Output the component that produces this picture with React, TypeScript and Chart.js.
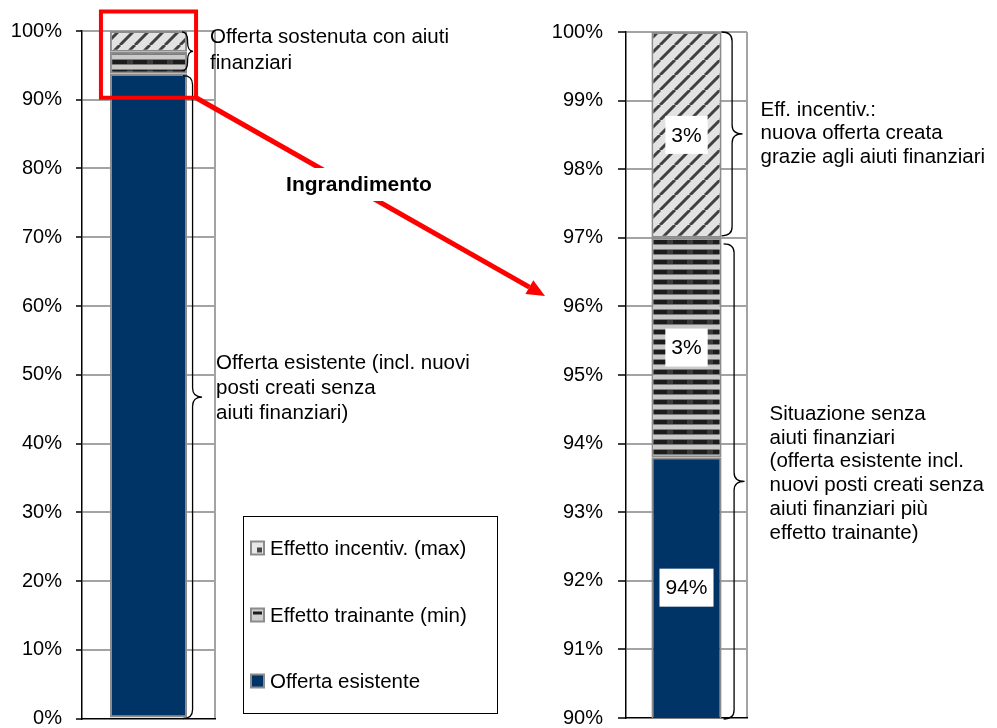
import React, { useEffect, useRef } from 'react';
import { Chart, registerables } from 'chart.js';

Chart.register(...registerables);

const FONT = '"Liberation Sans", Arial, Helvetica, sans-serif';
Chart.defaults.font.family = FONT;

// ---- data ----
const categories = [''];
const seriesLabels = ['Offerta esistente', 'Effetto trainante (min)', 'Effetto incentiv. (max)'];
const existingValues = [93.8];
const trainanteValues = [3.2];
const incentiveValues = [3.0];
const leftAxis = [0, 100, 10];
const rightAxis = [90, 100, 1];

const leftTopNote = ['Offerta sostenuta con aiuti', 'finanziari'];
const leftMainNote = ['Offerta esistente (incl. nuovi', 'posti creati senza', 'aiuti finanziari)'];
const rightTopNote = ['Eff. incentiv.:', 'nuova offerta creata', 'grazie agli aiuti finanziari'];
const rightMainNote = [
  'Situazione senza',
  'aiuti finanziari',
  '(offerta esistente incl.',
  'nuovi posti creati senza',
  'aiuti finanziari più',
  'effetto trainante)',
];
const zoomLabel = 'Ingrandimento';
const legendOrder = [2, 1, 0];

const NAVY = '#003366';
const GRID = '#a3a3a3';
const BAR_BORDER = '#8c8c8c';

function makeHatch(): CanvasPattern | string {
  const s = 15;
  const c = document.createElement('canvas');
  c.width = s;
  c.height = s;
  const g = c.getContext('2d');
  if (!g) return '#ddd';
  g.fillStyle = '#e2e2e2';
  g.fillRect(0, 0, s, s);
  g.strokeStyle = '#404040';
  g.lineWidth = 3;
  g.beginPath();
  for (const o of [-s, 0, s]) {
    g.moveTo(o, s);
    g.lineTo(o + s, 0);
  }
  g.stroke();
  return g.createPattern(c, 'repeat') || '#ddd';
}

function makeStripes(): CanvasPattern | string {
  const w = 20;
  const h = 10;
  const c = document.createElement('canvas');
  c.width = w;
  c.height = h;
  const g = c.getContext('2d');
  if (!g) return '#888';
  g.fillStyle = '#cacaca';
  g.fillRect(0, 0, w, h);
  g.fillStyle = '#1c1c1c';
  g.fillRect(0, 0, w, 4);
  g.fillStyle = '#3a3a3a';
  g.fillRect(7, 0, 6, 4);
  g.fillStyle = '#7d7d7d';
  g.fillRect(0, 4, w, 1);
  g.fillRect(0, 9, w, 1);
  return g.createPattern(c, 'repeat') || '#888';
}

function brace(ctx: CanvasRenderingContext2D, x: number, y1: number, y2: number, depth: number) {
  const xm = x + depth * 0.5;
  const ym = (y1 + y2) / 2;
  const r = Math.min(9, (y2 - y1) / 4);
  ctx.beginPath();
  ctx.moveTo(x, y1);
  ctx.quadraticCurveTo(xm, y1, xm, y1 + r);
  ctx.lineTo(xm, ym - r);
  ctx.quadraticCurveTo(xm, ym, x + depth, ym);
  ctx.quadraticCurveTo(xm, ym, xm, ym + r);
  ctx.lineTo(xm, y2 - r);
  ctx.quadraticCurveTo(xm, y2, x, y2);
  ctx.stroke();
}

function lines(ctx: CanvasRenderingContext2D, texts: string[], x: number, y0: number, dy: number) {
  ctx.fillStyle = '#000';
  ctx.font = `20.5px ${FONT}`;
  ctx.textAlign = 'left';
  ctx.textBaseline = 'middle';
  texts.forEach((t, i) => ctx.fillText(t, x, y0 + i * dy));
}

function buildDatasets(hatch: any, stripes: any) {
  return [
    { label: seriesLabels[0], data: existingValues, backgroundColor: NAVY },
    { label: seriesLabels[1], data: trainanteValues, backgroundColor: stripes },
    { label: seriesLabels[2], data: incentiveValues, backgroundColor: hatch },
  ].map((d) => ({
    ...d,
    borderColor: BAR_BORDER,
    borderWidth: 2,
    borderSkipped: false,
    barPercentage: 0.58,
    categoryPercentage: 1,
  }));
}

function scalesFor(range: number[], tickLen: number, pad: number) {
  const [min, max, step] = range;
  return {
    x: {
      stacked: true,
      grid: {
        display: true,
        offset: true,
        drawTicks: false,
        lineWidth: 2,
        color: (c: any) => (c.index === 0 ? 'rgba(0,0,0,0)' : GRID),
      },
      ticks: { display: false },
      border: { color: '#000', width: 1.5 },
      afterFit: (s: any) => {
        s.height = 0;
        s.paddingLeft = 0;
        s.paddingRight = 0;
      },
    },
    y: {
      stacked: true,
      min,
      max,
      ticks: {
        stepSize: step,
        color: '#000',
        padding: pad,
        font: { size: 20, family: FONT },
        callback: (v: any) => `${Math.round(Number(v))}%`,
      },
      grid: {
        lineWidth: 2,
        color: (c: any) => (c.tick && c.tick.value === min ? 'rgba(0,0,0,0)' : GRID),
        tickColor: '#000',
        tickLength: tickLen,
        tickWidth: 1.5,
      },
      border: { color: '#000', width: 1.5 },
      afterFit: (s: any) => {
        s.width = 82;
        s.paddingTop = 0;
        s.paddingBottom = 0;
      },
    },
  };
}

const leftPlugin = {
  id: 'leftAnnotations',
  afterDraw(chart: any) {
    const ctx: CanvasRenderingContext2D = chart.ctx;
    const ys = chart.scales.y;
    const el = chart.getDatasetMeta(0).data[0];
    const barL = el.x - el.width / 2;
    const barR = el.x + el.width / 2;
    const yTop = ys.getPixelForValue(100);
    const yExist = ys.getPixelForValue(existingValues[0]);
    const yZero = ys.getPixelForValue(0);
    ctx.save();
    ctx.strokeStyle = '#000';
    ctx.lineWidth = 1.3;
    brace(ctx, barR - 5, yTop + 1, yExist - 3, 11);
    brace(ctx, barR - 4, yExist + 2, yZero, 19);
    lines(ctx, leftTopNote, barR + 23, 37, 26);
    lines(ctx, leftMainNote, barR + 29, 363, 25);

    // legend box
    ctx.strokeStyle = '#000';
    ctx.lineWidth = 1;
    ctx.strokeRect(243.5, 516.5, 254, 197);
    const ly = [548, 615, 681];
    legendOrder.forEach((di, k) => {
      const y = ly[k];
      const x = 251;
      const s = 13;
      if (di === 0) {
        ctx.fillStyle = NAVY;
        ctx.fillRect(x, y - s / 2, s, s);
      } else if (di === 1) {
        ctx.fillStyle = '#d0d0d0';
        ctx.fillRect(x, y - s / 2, s, s);
        ctx.fillStyle = '#1c1c1c';
        ctx.fillRect(x + 2, y - s / 2 + 3, s - 4, 3);
      } else {
        ctx.fillStyle = '#e8e8e8';
        ctx.fillRect(x, y - s / 2, s, s);
        ctx.fillStyle = '#444';
        ctx.fillRect(x + s - 7, y + s / 2 - 7, 5, 5);
      }
      ctx.strokeStyle = '#8c8c8c';
      ctx.lineWidth = 2;
      ctx.strokeRect(x, y - s / 2, s, s);
      ctx.fillStyle = '#000';
      ctx.font = `20.5px ${FONT}`;
      ctx.textAlign = 'left';
      ctx.textBaseline = 'middle';
      ctx.fillText(seriesLabels[di], 270, y + 1);
    });

    // red zoom rectangle
    const rx1 = barL - 9;
    const rx2 = barR + 9;
    const ry1 = yTop - 19.5;
    const ry2 = ys.getPixelForValue(90) - 2;
    ctx.strokeStyle = '#ff0000';
    ctx.lineWidth = 4;
    ctx.strokeRect(rx1, ry1, rx2 - rx1, ry2 - ry1);

    // arrow
    const tipX = 545;
    const tipY = 296;
    const ang = Math.atan2(tipY - ry2, tipX - rx2);
    const hl = 18;
    const hw = 8;
    const bxp = tipX - hl * Math.cos(ang);
    const byp = tipY - hl * Math.sin(ang);
    ctx.lineWidth = 5;
    ctx.beginPath();
    ctx.moveTo(rx2, ry2);
    ctx.lineTo(bxp, byp);
    ctx.stroke();
    ctx.fillStyle = '#ff0000';
    ctx.beginPath();
    ctx.moveTo(tipX, tipY);
    ctx.lineTo(bxp + hw * Math.sin(ang), byp - hw * Math.cos(ang));
    ctx.lineTo(bxp - hw * Math.sin(ang), byp + hw * Math.cos(ang));
    ctx.closePath();
    ctx.fill();

    // zoom label
    ctx.font = `bold 21px ${FONT}`;
    const tw = ctx.measureText(zoomLabel).width;
    const cx = 359;
    const cy = 185;
    ctx.fillStyle = '#fff';
    ctx.fillRect(cx - tw / 2 - 3, cy - 17, tw + 6, 33);
    ctx.fillStyle = '#000';
    ctx.textAlign = 'center';
    ctx.textBaseline = 'middle';
    ctx.fillText(zoomLabel, cx, cy);
    ctx.restore();
  },
};

const rightPlugin = {
  id: 'rightAnnotations',
  afterDatasetsDraw(chart: any) {
    const ctx: CanvasRenderingContext2D = chart.ctx;
    const area = chart.chartArea;
    ctx.save();
    chart.data.datasets.forEach((ds: any, i: number) => {
      const el = chart.getDatasetMeta(i).data[0];
      const top = Math.max(Math.min(el.y, el.base), area.top);
      const bottom = Math.min(Math.max(el.y, el.base), area.bottom);
      const cy = (top + bottom) / 2;
      const text = `${Math.round(ds.data[0])}%`;
      ctx.font = `21px ${FONT}`;
      const tw = ctx.measureText(text).width;
      ctx.fillStyle = '#fff';
      ctx.fillRect(el.x - tw / 2 - 6, cy - 19, tw + 12, 38);
      ctx.fillStyle = '#000';
      ctx.textAlign = 'center';
      ctx.textBaseline = 'middle';
      ctx.fillText(text, el.x, cy + 1);
    });
    ctx.restore();
  },
  afterDraw(chart: any) {
    const ctx: CanvasRenderingContext2D = chart.ctx;
    const ys = chart.scales.y;
    const area = chart.chartArea;
    const el = chart.getDatasetMeta(0).data[0];
    const barR = el.x + el.width / 2;
    const yTop = ys.getPixelForValue(100);
    const ySplit = ys.getPixelForValue(existingValues[0] + trainanteValues[0]);
    ctx.save();
    ctx.strokeStyle = '#000';
    ctx.lineWidth = 1.3;
    brace(ctx, barR, yTop, ySplit - 2, 21);
    brace(ctx, barR + 2, ySplit + 6, area.bottom + 1, 21);
    lines(ctx, rightTopNote, barR + 39, 110, 23.5);
    lines(ctx, rightMainNote, barR + 48, 414, 23.9);
    ctx.restore();
  },
};

export default function App() {
  const leftRef = useRef<HTMLCanvasElement>(null);
  const rightRef = useRef<HTMLCanvasElement>(null);

  useEffect(() => {
    if (!leftRef.current || !rightRef.current) return;
    const hatch = makeHatch();
    const stripes = makeStripes();

    const left = new Chart(leftRef.current, {
      type: 'bar',
      data: { labels: categories, datasets: buildDatasets(hatch, stripes) as any },
      options: {
        animation: false,
        responsive: false,
        layout: { padding: { left: 0, right: 782, top: 31, bottom: 9.5 } },
        plugins: { legend: { display: false }, tooltip: { enabled: false } },
        scales: scalesFor(leftAxis, 6, 14) as any,
      },
      plugins: [leftPlugin],
    });

    const right = new Chart(rightRef.current, {
      type: 'bar',
      data: { labels: categories, datasets: buildDatasets(hatch, stripes) as any },
      options: {
        animation: false,
        responsive: false,
        layout: { padding: { left: 544, right: 250, top: 32, bottom: 10 } },
        plugins: { legend: { display: false }, tooltip: { enabled: false } },
        scales: scalesFor(rightAxis, 8, 15) as any,
      },
      plugins: [rightPlugin],
    });

    return () => {
      left.destroy();
      right.destroy();
    };
  }, []);

  const canvasStyle: React.CSSProperties = { position: 'absolute', left: 0, top: 0, width: 997, height: 728 };
  return (
    <div style={{ position: 'absolute', left: 0, top: 0, width: 997, height: 728, background: '#fff' }}>
      <canvas ref={leftRef} width={997} height={728} style={canvasStyle} />
      <canvas ref={rightRef} width={997} height={728} style={canvasStyle} />
    </div>
  );
}
